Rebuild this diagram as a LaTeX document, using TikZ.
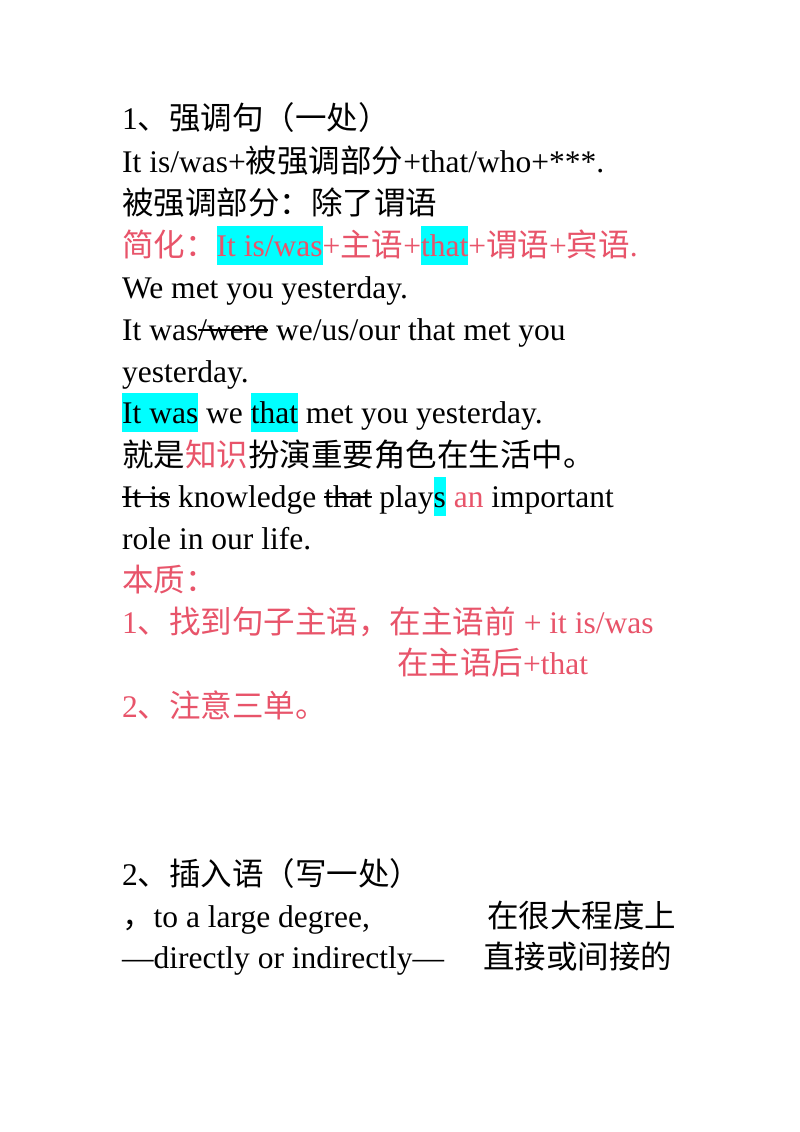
\documentclass[tikz,border=0pt]{standalone}
\usepackage{fontspec}
\setmainfont{Liberation Serif}
\newfontfamily\cjk{Noto Sans CJK SC}
\definecolor{rd}{HTML}{E8546A}
\definecolor{hl}{HTML}{00FFFF}
\newcommand{\hlt}[1]{{\setlength{\fboxsep}{0pt}\colorbox{hl}{\rule[-0.28em]{0pt}{1.22em}#1}}}
\newsavebox{\stbox}
\newcommand{\strk}[1]{\sbox{\stbox}{#1}\rlap{\rule[0.3em]{\wd\stbox}{1.2pt}}\usebox{\stbox}}
\begin{document}
\begin{tikzpicture}[x=1pt,y=-1pt,
  ln/.style={anchor=base west,inner sep=0pt,font=\fontsize{31.5}{36}\selectfont}]
\useasboundingbox[fill=white] (0,0) rectangle (800,1132);
\node[ln] (l1) at (122,129) {1{\cjk 、强调句（一处）}};
\node[ln] (l2) at (122,172) {It is/was+{\cjk 被强调部分}+that/who+***.};
\node[ln] (l3) at (122,214) {{\cjk 被强调部分：除了谓语}};
\node[ln,text=rd] (l4) at (122,256) {{\cjk 简化：}\hlt{It is/was}+{\cjk 主语}+\hlt{that}+{\cjk 谓语}+{\cjk 宾语}.};
\node[ln] (l5) at (122,298) {We met you yesterday.};
\node[ln] (l6) at (122,340) {It was\strk{/were} we/us/our that met you};
\node[ln] (l7) at (122,382) {yesterday.};
\node[ln] (l8) at (122,423) {\hlt{It was} we \hlt{that} met you yesterday.};
\node[ln] (l9) at (122,466) {{\cjk 就是\textcolor{rd}{知识}扮演重要角色在生活中。}};
\node[ln] (l10) at (122,507) {\strk{It is} knowledge \strk{that} play\hlt{s} \textcolor{rd}{an} important};
\node[ln] (l11) at (122,549) {role in our life.};
\node[ln,text=rd] (l12) at (122,591) {{\cjk 本质：}};
\node[ln,text=rd] (l13) at (122,633) {1{\cjk 、找到句子主语，在主语前} + it is/was};
\node[ln,text=rd] (l14) at (397,674) {{\cjk 在主语后}+that};
\node[ln,text=rd] (l15) at (122,717) {2{\cjk 、注意三单。}};
\node[ln] (m1) at (122,885) {2{\cjk 、插入语（写一处）}};
\node[ln] (m2) at (122,927) {{\cjk ，}to a large degree,};
\node[ln] (m3) at (487,927) {{\cjk 在很大程度上}};
\node[ln] (m4) at (122,968) {—directly or indirectly—};
\node[ln] (m5) at (483,968) {{\cjk 直接或间接的}};
\end{tikzpicture}
\end{document}
